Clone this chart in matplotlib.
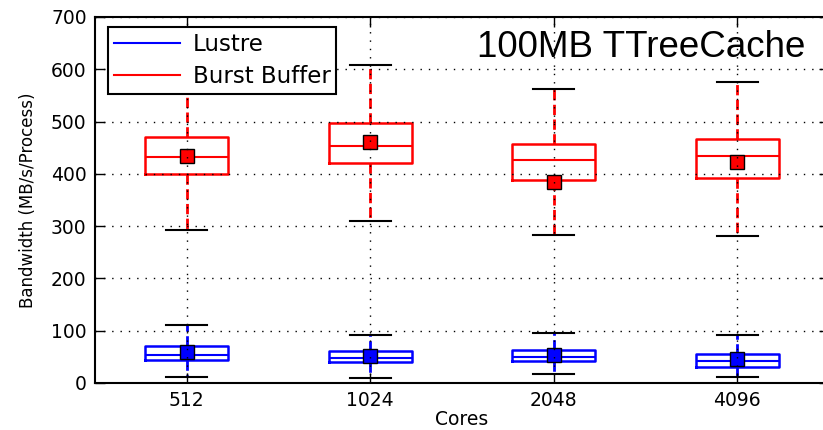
import matplotlib
matplotlib.use("Agg")
import matplotlib.pyplot as plt
from matplotlib.lines import Line2D

cores = ["512", "1024", "2048", "4096"]
positions = [1, 2, 3, 4]

# Burst Buffer (MB/s/Process)
bb_low = [293, 310, 284, 281]
bb_q1 = [400, 421, 388, 393]
bb_med = [432, 454, 426, 434]
bb_q3 = [471, 498, 458, 467]
bb_high = [600, 608, 562, 575]
bb_mean = [435, 461, 384, 423]

# Lustre (MB/s/Process)
lu_low = [12, 10, 17, 12]
lu_q1 = [44, 40, 42, 31]
lu_med = [54, 47, 49, 43]
lu_q3 = [71, 61, 63, 56]
lu_high = [110, 92, 96, 92]
lu_mean = [60, 52, 54, 45]


def make_stats(low, q1, med, q3, high, mean):
    return [dict(whislo=a, q1=b, med=c, q3=d, whishi=e, mean=f, fliers=[])
            for a, b, c, d, e, f in zip(low, q1, med, q3, high, mean)]


def draw(ax, stats, color):
    ax.bxp(stats, positions=positions, widths=0.45, capwidths=0.225,
           showmeans=True, showfliers=False,
           boxprops=dict(color=color, lw=1.8),
           medianprops=dict(color=color, lw=1.5),
           whiskerprops=dict(color=color, ls="--", lw=2),
           capprops=dict(color="black", lw=1.5),
           meanprops=dict(marker="s", markerfacecolor=color,
                          markeredgecolor="black", markersize=9.5))


fig = plt.figure(figsize=(8.23, 4.30), dpi=100)
ax = fig.add_axes([95 / 823, 47 / 430, 734 / 823, 366 / 430])

draw(ax, make_stats(lu_low, lu_q1, lu_med, lu_q3, lu_high, lu_mean), "blue")
draw(ax, make_stats(bb_low, bb_q1, bb_med, bb_q3, bb_high, bb_mean), "red")

ax.set_xlim(0.5, 4.5)
ax.set_ylim(0, 700)
ax.set_yticks(range(0, 701, 100))
ax.set_xticks(positions)
ax.set_xticklabels(cores)

ax.set_axisbelow(False)
ax.grid(True, color="black", lw=1, ls=(0, (1, 5)))
ax.tick_params(direction="in", length=7, width=1, top=True, right=True,
               labelsize=13.5, pad=6)
for s in ax.spines.values():
    s.set_linewidth(1.5)

ax.set_xlabel("Cores", fontsize=13.5, labelpad=0)
ax.set_ylabel("Bandwidth (MB/s/Process)", fontsize=12, labelpad=10)

ax.text(0.968, 0.918, "100MB TTreeCache", transform=ax.transAxes,
        ha="right", va="center", fontsize=26.5, family="Liberation Sans")

handles = [Line2D([], [], color="blue", lw=1.5),
           Line2D([], [], color="red", lw=1.5)]
leg = ax.legend(handles, ["Lustre", "Burst Buffer"], loc="upper left",
                bbox_to_anchor=(0.0177, 0.972), borderaxespad=0,
                fontsize=16.5, handlelength=2.9, handletextpad=0.55,
                labelspacing=0.4, borderpad=0.25, fancybox=False,
                framealpha=1, edgecolor="black")
leg.get_frame().set_linewidth(1.5)

fig.savefig("out.png", dpi=100)
